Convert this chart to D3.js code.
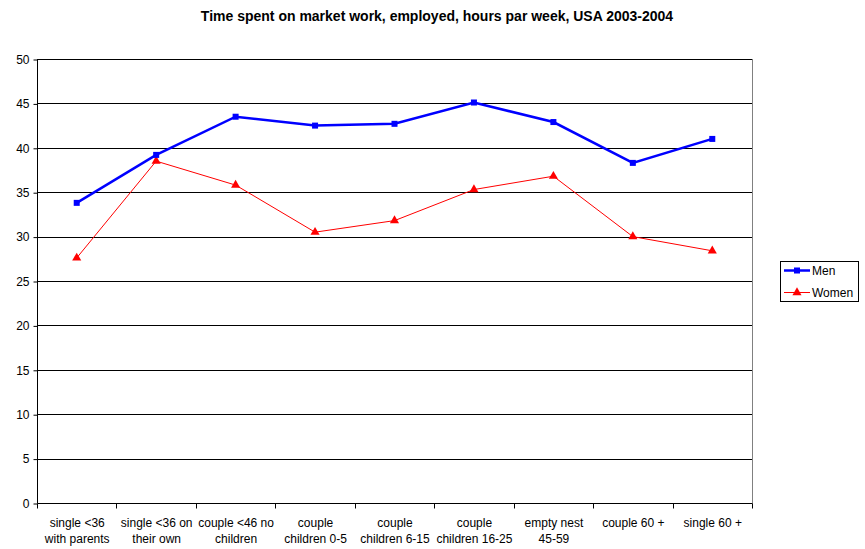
<!DOCTYPE html>
<html><head><meta charset="utf-8">
<script src="https://cdn.jsdelivr.net/npm/d3@7"></script>
<style>body{margin:0;background:#fff;}svg{display:block;font-family:"Liberation Sans",Arial,sans-serif;}</style>
</head><body>
<svg id="c" width="865" height="549"></svg>
<script>
const categories = [
  ["single <36","with parents"],
  ["single <36 on","their own"],
  ["couple <46 no","children"],
  ["couple","children 0-5"],
  ["couple","children 6-15"],
  ["couple","children 16-25"],
  ["empty nest","45-59"],
  ["couple 60 +"],
  ["single 60 +"]
];
const men   = [33.8, 39.2, 43.5, 42.5, 42.7, 45.1, 42.9, 38.3, 41.0];
const women = [27.6, 38.5, 35.8, 30.5, 31.8, 35.3, 36.8, 30.0, 28.4];
const yTicks = [0,5,10,15,20,25,30,35,40,45,50];
const title = "Time spent on market work, employed, hours par week, USA 2003-2004";
const seriesNames = ["Men","Women"];

const svg = d3.select("#c");
const L=37, R=752, T=59, B=503;
const x = d3.scaleBand().domain(d3.range(categories.length)).range([L,R]);
const y = d3.scaleLinear().domain([0,50]).range([B,T]);

svg.append("text").attr("x",437).attr("y",21).attr("text-anchor","middle")
  .attr("font-size",14).attr("font-weight","bold").text(title);

// gridlines
svg.append("g").selectAll("line").data(yTicks.filter(d=>d>0)).join("line")
  .attr("x1",L).attr("x2",R).attr("y1",d=>Math.round(y(d))+0.5).attr("y2",d=>Math.round(y(d))+0.5)
  .attr("stroke","#000").attr("stroke-width",1);
// right border
svg.append("line").attr("x1",R+0.5).attr("x2",R+0.5).attr("y1",T).attr("y2",B)
  .attr("stroke","#808080");

// y axis
const ya = svg.append("g").attr("transform",`translate(${L+0.5},0.5)`)
  .call(d3.axisLeft(y).tickValues(yTicks).tickSize(4).tickPadding(4).tickFormat(d3.format("d")));
ya.select(".domain").remove();
ya.append("line").attr("x1",0).attr("x2",0).attr("y1",T).attr("y2",B).attr("stroke","#000");
ya.selectAll("text").attr("font-size",12).attr("fill","#000").attr("font-family","Liberation Sans, Arial, sans-serif");
ya.selectAll(".tick line").attr("stroke","#000");

// x axis
const xa = svg.append("g").attr("transform",`translate(0.5,${B+0.5})`);
xa.append("line").attr("x1",L).attr("x2",R).attr("stroke","#000");
xa.selectAll("line.t").data(d3.range(categories.length+1)).join("line").attr("class","t")
  .attr("x1",i=>Math.round(L+i*x.bandwidth())).attr("x2",i=>Math.round(L+i*x.bandwidth()))
  .attr("y1",0).attr("y2",5).attr("stroke","#000");
xa.selectAll("text").data(categories).join("text")
  .attr("x",(d,i)=>x(i)+x.bandwidth()/2).attr("y",23).attr("text-anchor","middle")
  .attr("font-size",12)
  .selectAll("tspan").data(d=>d).join("tspan")
  .attr("x",function(){return this.parentNode.getAttribute("x");})
  .attr("dy",(d,i)=>i?16:0).text(d=>d);

const cx = i=>x(i)+x.bandwidth()/2;
const line = d3.line().x((d,i)=>cx(i)).y(d=>y(d));

svg.append("path").datum(women).attr("d",line).attr("fill","none").attr("stroke","#ff0000").attr("stroke-width",1);
svg.append("g").selectAll("path").data(women).join("path")
  .attr("transform",(d,i)=>`translate(${cx(i)},${y(d)})`)
  .attr("d",d3.symbol(d3.symbolTriangle,36)).attr("fill","#ff0000");

svg.append("path").datum(men).attr("d",line).attr("fill","none").attr("stroke","#0000ff").attr("stroke-width",2.5);
svg.append("g").selectAll("rect").data(men).join("rect")
  .attr("x",(d,i)=>cx(i)-3).attr("y",d=>y(d)-3).attr("width",6).attr("height",6).attr("fill","#0000ff");

// legend
const lg = svg.append("g");
lg.append("rect").attr("x",780.5).attr("y",261.5).attr("width",78).attr("height",40).attr("fill","#fff").attr("stroke","#000");
const items = [{n:seriesNames[0],c:"#0000ff",w:2.5,s:"sq"},{n:seriesNames[1],c:"#ff0000",w:1,s:"tri"}];
items.forEach((it,k)=>{
  const yy = 270.5 + k*22;
  lg.append("line").attr("x1",784).attr("x2",810).attr("y1",yy).attr("y2",yy).attr("stroke",it.c).attr("stroke-width",it.w);
  if(it.s==="sq") lg.append("rect").attr("x",794).attr("y",yy-3).attr("width",6).attr("height",6).attr("fill",it.c);
  else lg.append("path").attr("transform",`translate(797,${yy})`).attr("d",d3.symbol(d3.symbolTriangle,36)).attr("fill",it.c);
  lg.append("text").attr("x",812).attr("y",yy+4).attr("font-size",12).text(it.n);
});
</script>
</body></html>
